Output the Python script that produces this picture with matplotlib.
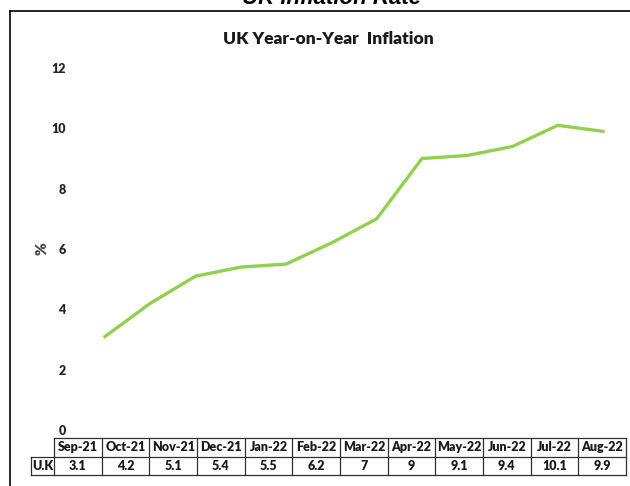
import matplotlib
matplotlib.use("Agg")
import matplotlib.pyplot as plt
from matplotlib.lines import Line2D

# data
months = ["Sep-21", "Oct-21", "Nov-21", "Dec-21", "Jan-22", "Feb-22",
          "Mar-22", "Apr-22", "May-22", "Jun-22", "Jul-22", "Aug-22"]
uk_values = [3.1, 4.2, 5.1, 5.4, 5.5, 6.2, 7, 9, 9.1, 9.4, 10.1, 9.9]
row_label = "U.K"
yticks = [0, 2, 4, 6, 8, 10, 12]

W, H = 630, 486
def fx(px):
    return px / W
def fy(py):
    return 1 - py / H

plt.rcParams['font.family'] = ['Lato', 'DejaVu Sans']
BOLD = 'heavy'

fig = plt.figure(figsize=(W / 100, H / 100), dpi=100)

# outer frame (only left and top edges visible)
fig.add_artist(Line2D([fx(10), 1], [fy(11), fy(11)], color='black', lw=1.2))
fig.add_artist(Line2D([fx(10), fx(10)], [fy(11), 0], color='black', lw=1.2))

# page title, cut off at the top like in the screenshot
fig.text(fx(332), fy(4), "UK Inflation Rate", ha='center', va='baseline',
         fontsize=16, fontweight='bold', fontstyle='italic', family='Liberation Sans')

# chart title
fig.text(fx(328), fy(39), "UK Year-on-Year  Inflation", ha='center', va='center',
         fontsize=12.5, fontweight=BOLD, color='#1a1a1a')

# main plot
left, right = 82.4, 625.7
top, bottom = 68, 430
ax = fig.add_axes([fx(left), fy(bottom), fx(right - left), (bottom - top) / H])
x = list(range(len(months)))
ax.plot(x, uk_values, color='#92D050', lw=2.4, solid_joinstyle='round')
ax.set_xlim(-0.5, len(months) - 0.5)
ax.set_ylim(0, 12)
ax.set_yticks(yticks)
ax.set_yticklabels([str(v) for v in yticks], fontweight=BOLD, fontsize=9, color='#262626')
ax.tick_params(axis='y', length=0, pad=12)
ax.set_xticks([])
for s in ax.spines.values():
    s.set_visible(False)
ax.patch.set_alpha(0)

fig.text(fx(42), fy(249), "%", rotation=90, ha='center', va='center',
         fontsize=11, fontweight=BOLD, color='#404040')

# data table under the plot
t_left, t_right = 31, 626
t_top, t_bot = 438, 475
lab_w = 23 / ((t_right - 54) / len(months))
tax = fig.add_axes([fx(t_left), fy(t_bot), fx(t_right - t_left), (t_bot - t_top) / H])
tax.set_xlim(-lab_w, len(months))
tax.set_ylim(0, 2)
tax.axis('off')
lc = '#303030'
lw = 0.9
tax.plot([0, len(months)], [2, 2], color=lc, lw=lw, clip_on=False)
tax.plot([-lab_w, len(months)], [1, 1], color=lc, lw=lw, clip_on=False)
tax.plot([-lab_w, len(months)], [0, 0], color=lc, lw=lw, clip_on=False)
tax.plot([-lab_w, -lab_w], [0, 1], color=lc, lw=lw, clip_on=False)
for i in range(len(months) + 1):
    tax.plot([i, i], [0, 2], color=lc, lw=lw, clip_on=False)
for i, (m, v) in enumerate(zip(months, uk_values)):
    tax.text(i + 0.5, 1.5, m, ha='center', va='center', fontsize=9,
             fontweight=BOLD, color='#1a1a1a')
    tax.text(i + 0.5, 0.5, f"{v:g}", ha='center', va='center', fontsize=9,
             fontweight=BOLD, color='#1a1a1a')
tax.text(-lab_w / 2, 0.5, row_label, ha='center', va='center', fontsize=9,
         fontweight=BOLD, color='#1a1a1a')

fig.savefig("out.png", dpi=100)
